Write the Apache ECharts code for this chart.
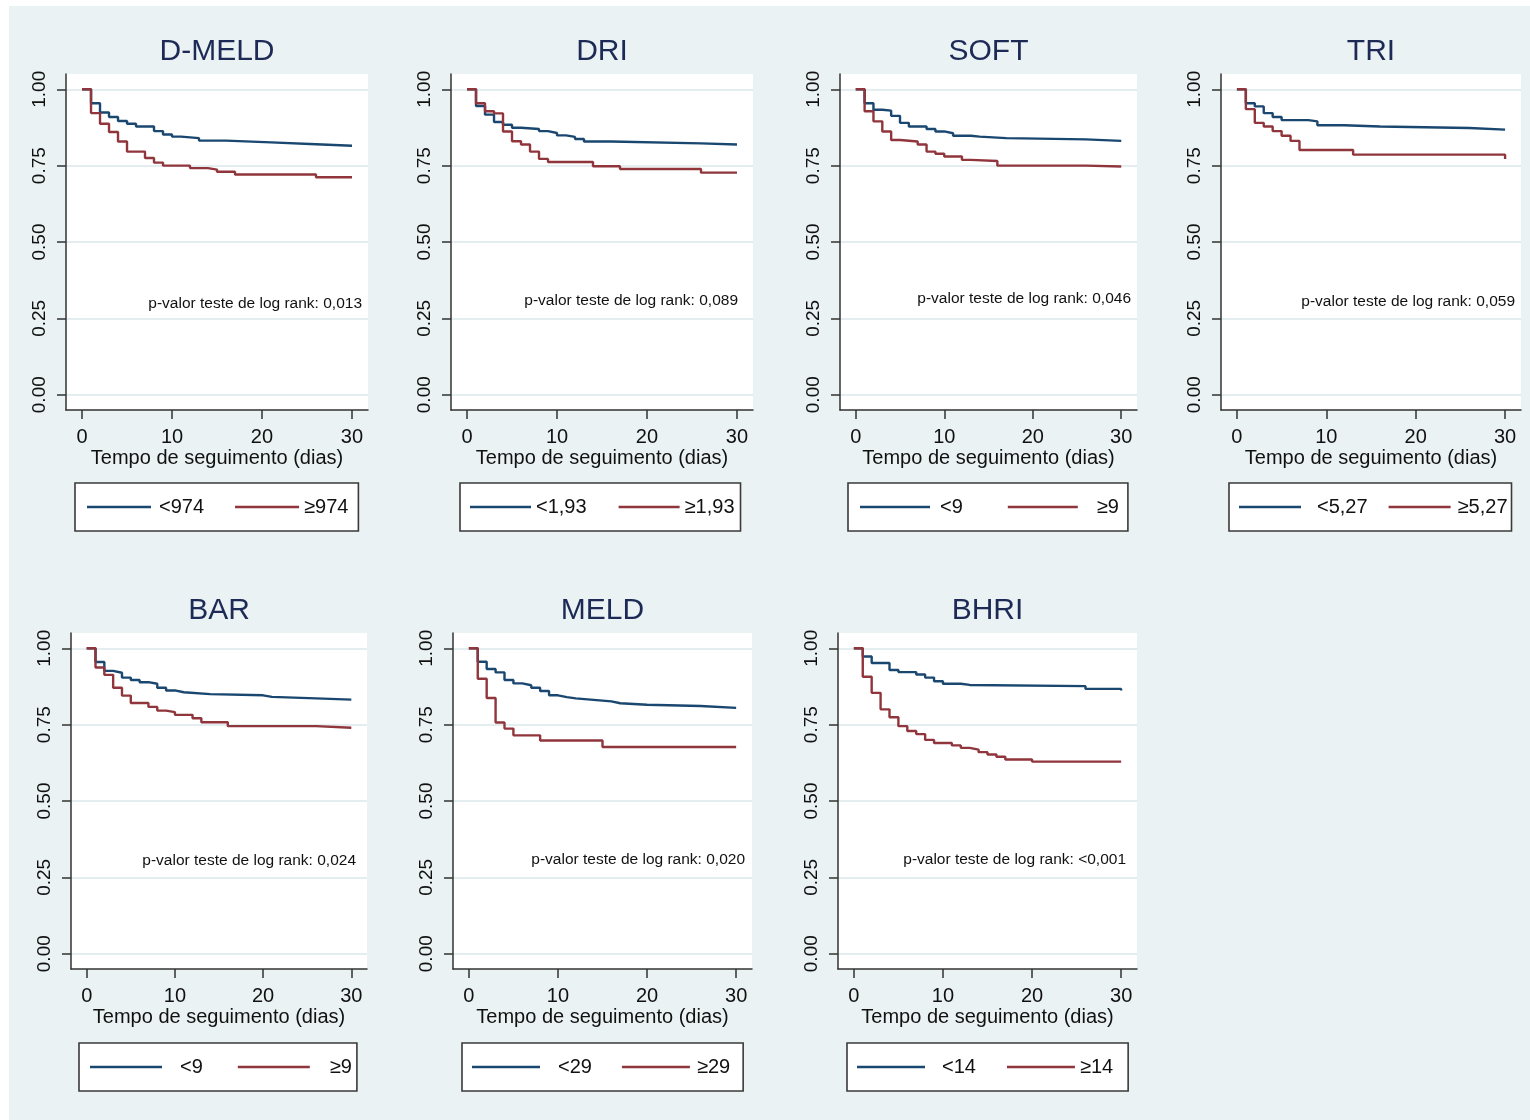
<!DOCTYPE html>
<html>
<head>
<meta charset="utf-8">
<title>Sobrevida em 30 dias por escore</title>
<script src="https://cdn.jsdelivr.net/npm/echarts@6/dist/echarts.min.js"></script>
<style>
  html, body { margin: 0; padding: 0; background: #ffffff; }
  #bg { position: absolute; left: 9px; top: 6px; width: 1521px; height: 1114px; background: #eaf2f3; }
  #chart { position: absolute; left: 0; top: 0; width: 1530px; height: 1120px; }
</style>
</head>
<body>
<div id="bg"></div>
<div id="chart"></div>
<script>
// Kaplan-Meier survival estimates: [day, survival after the drop on that day]
const dmeldLow  = [[0,1],[1,0.954],[2,0.924],[3,0.909],[4,0.896],[5,0.887],[6,0.878],[8,0.863],[9,0.852],[10,0.845],[11,0.840],[13,0.832],[16,0.826],[21,0.820],[26,0.815],[30,0.815]];
const dmeldHigh = [[0,1],[1,0.922],[2,0.887],[3,0.860],[4,0.829],[5,0.796],[7,0.775],[8,0.760],[9,0.750],[12,0.742],[14,0.737],[15,0.730],[17,0.721],[26,0.712],[30,0.712]];

const driLow  = [[0,1],[1,0.945],[2,0.917],[3,0.893],[4,0.884],[5,0.874],[6,0.870],[8,0.863],[9,0.857],[10,0.849],[11,0.844],[12,0.837],[13,0.829],[16,0.823],[26,0.819],[30,0.819]];
const driHigh = [[0,1],[1,0.954],[2,0.928],[3,0.921],[4,0.862],[5,0.830],[6,0.819],[7,0.796],[8,0.772],[9,0.762],[14,0.748],[17,0.739],[26,0.727],[30,0.727]];

const softLow  = [[0,1],[1,0.954],[2,0.933],[3,0.930],[4,0.913],[5,0.890],[6,0.878],[8,0.870],[9,0.862],[10,0.856],[11,0.848],[13,0.845],[14,0.840],[17,0.836],[26,0.831],[30,0.831]];
const softHigh = [[0,1],[1,0.928],[2,0.895],[3,0.862],[4,0.834],[5,0.829],[7,0.819],[8,0.796],[9,0.789],[10,0.780],[12,0.769],[13,0.765],[16,0.750],[26,0.747],[30,0.747]];

const triLow  = [[0,1],[1,0.954],[2,0.944],[3,0.922],[4,0.909],[5,0.899],[8,0.895],[9,0.882],[12,0.878],[16,0.873],[26,0.868],[30,0.868]];
const triHigh = [[0,1],[1,0.935],[2,0.890],[3,0.878],[4,0.863],[5,0.848],[6,0.831],[7,0.801],[13,0.786],[30,0.772]];

const barLow  = [[0,1],[1,0.955],[2,0.926],[3,0.920],[4,0.904],[5,0.896],[6,0.889],[7,0.884],[8,0.871],[9,0.862],[10,0.856],[11,0.850],[14,0.846],[20,0.841],[21,0.836],[26,0.832],[30,0.832]];
const barHigh = [[0,1],[1,0.937],[2,0.913],[3,0.871],[4,0.845],[5,0.821],[7,0.808],[8,0.796],[9,0.791],[10,0.782],[12,0.771],[13,0.758],[16,0.745],[26,0.740],[30,0.740]];

const meldLow  = [[0,1],[1,0.956],[2,0.932],[3,0.921],[4,0.896],[5,0.885],[6,0.879],[7,0.871],[8,0.860],[9,0.846],[10,0.840],[11,0.836],[12,0.831],[14,0.826],[16,0.820],[17,0.815],[20,0.811],[26,0.805],[30,0.805]];
const meldHigh = [[0,1],[1,0.900],[2,0.837],[3,0.757],[4,0.737],[5,0.715],[8,0.698],[15,0.677],[30,0.677]];

const bhriLow  = [[0,1],[1,0.973],[2,0.952],[4,0.929],[5,0.922],[7,0.914],[8,0.904],[9,0.892],[10,0.884],[12,0.880],[13,0.876],[26,0.867],[30,0.862]];
const bhriHigh = [[0,1],[1,0.907],[2,0.854],[3,0.800],[4,0.774],[5,0.745],[6,0.729],[7,0.719],[8,0.700],[9,0.690],[11,0.682],[12,0.674],[13,0.668],[14,0.660],[15,0.652],[16,0.645],[17,0.636],[20,0.629],[30,0.627]];

// Panel titles, group labels and log-rank p-values
const scoreNames  = ['D-MELD', 'DRI', 'SOFT', 'TRI', 'BAR', 'MELD', 'BHRI'];
const lowLabels   = ['<974', '<1,93', '<9', '<5,27', '<9', '<29', '<14'];
const highLabels  = ['\u2265974', '\u22651,93', '\u22659', '\u22655,27', '\u22659', '\u226529', '\u226514'];
const pValues     = ['0,013', '0,089', '0,046', '0,059', '0,024', '0,020', '<0,001'];
const lowCurves   = [dmeldLow, driLow, softLow, triLow, barLow, meldLow, bhriLow];
const highCurves  = [dmeldHigh, driHigh, softHigh, triHigh, barHigh, meldHigh, bhriHigh];

// Axis ticks
const dayTicks      = [0, 10, 20, 30];
const survivalTicks = [0, 0.25, 0.5, 0.75, 1];

// Layout of each panel (pixels)
const panelLayout = [
  { left: 66,   top: 74,  width: 302, pRight: 362,  pY: 304, leg: { left: 75,   top: 483,  pl: 12, pr: 10, iw: 64, gap: 31, t1: 3,  t2: 0 } },
  { left: 451,  top: 74,  width: 302, pRight: 738,  pY: 301, leg: { left: 460,  top: 483,  pl: 10, pr: 6,  iw: 61, gap: 32, t1: 0,  t2: 0 } },
  { left: 840,  top: 74,  width: 297, pRight: 1131, pY: 299, leg: { left: 848,  top: 483,  pl: 12, pr: 9,  iw: 70, gap: 45, t1: 5,  t2: 14 } },
  { left: 1221, top: 74,  width: 300, pRight: 1515, pY: 302, leg: { left: 1229, top: 483,  pl: 10, pr: 4,  iw: 62, gap: 21, t1: 11, t2: 2 } },
  { left: 71,   top: 633, width: 296, pRight: 356,  pY: 861, leg: { left: 79,   top: 1043, pl: 11, pr: 5,  iw: 72, gap: 35, t1: 13, t2: 15 } },
  { left: 453,  top: 633, width: 299, pRight: 745,  pY: 860, leg: { left: 462,  top: 1043, pl: 10, pr: 13, iw: 68, gap: 30, t1: 13, t2: 2 } },
  { left: 838,  top: 633, width: 299, pRight: 1126, pY: 860, leg: { left: 847,  top: 1043, pl: 10, pr: 15, iw: 68, gap: 31, t1: 12, t2: 0 } }
];
const PLOT_HEIGHT = 336;
const TITLE_OFFSET = 22;

const NAVY = '#1a476f';
const MAROON = '#90353b';
const AXIS_COLOR = '#333333';
const GRID_COLOR = '#e4edf0';
const FONT = '"Liberation Sans", Arial, Helvetica, sans-serif';

const grids = [], xAxes = [], yAxes = [], series = [], legends = [], graphics = [];

scoreNames.forEach((score, i) => {
  const L = panelLayout[i];
  grids.push({
    left: L.left, top: L.top, width: L.width, height: PLOT_HEIGHT,
    show: true, backgroundColor: '#ffffff', borderWidth: 0, containLabel: false
  });
  xAxes.push({
    gridIndex: i, type: 'value', min: -1.78, max: 31.78,
    axisLine: { show: true, onZero: false, lineStyle: { color: AXIS_COLOR, width: 1.5 } },
    axisTick: { show: true, length: 9, customValues: dayTicks, lineStyle: { color: AXIS_COLOR, width: 1.5 } },
    axisLabel: { customValues: dayTicks, margin: 17, fontSize: 20, color: '#111', fontFamily: FONT },
    splitLine: { show: false },
    name: 'Tempo de seguimento (dias)', nameLocation: 'middle', nameGap: 38,
    nameTextStyle: { fontSize: 20, color: '#111', fontFamily: FONT }
  });
  yAxes.push({
    gridIndex: i, type: 'value', min: -0.05, max: 1.05,
    axisLine: { show: true, onZero: false, lineStyle: { color: AXIS_COLOR, width: 1.5 } },
    axisTick: { show: true, length: 9, customValues: survivalTicks, lineStyle: { color: AXIS_COLOR, width: 1.5 } },
    axisLabel: { customValues: survivalTicks, rotate: 90, margin: 17, fontSize: 19, color: '#111', fontFamily: FONT,
                 formatter: v => v.toFixed(2) },
    splitLine: { show: true, lineStyle: { color: GRID_COLOR, width: 2 } }
  });

  const lowName = score + '|' + lowLabels[i];
  const highName = score + '|' + highLabels[i];
  [[lowName, lowCurves[i], NAVY], [highName, highCurves[i], MAROON]].forEach(([name, data, color]) => {
    series.push({
      name, type: 'line', step: 'end', xAxisIndex: i, yAxisIndex: i,
      data, symbol: 'none', silent: true, z: 3,
      color, lineStyle: { color, width: 2.4 }
    });
  });

  const G = L.leg;
  legends.push({
    left: G.left, top: G.top, orient: 'horizontal',
    padding: [13, G.pr, 13, G.pl], itemGap: G.gap, itemWidth: G.iw, itemHeight: 2.6,
    icon: 'rect',
    backgroundColor: '#ffffff', borderColor: '#3a3a3a', borderWidth: 1.6, borderRadius: 0,
    selectedMode: false,
    textStyle: { fontSize: 20, color: '#111', fontFamily: FONT, lineHeight: 22 },
    formatter: n => n.split('|')[1],
    data: [
      { name: lowName, textStyle: { padding: [0, 0, 0, G.t1] } },
      { name: highName, textStyle: { padding: [0, 0, 0, G.t2] } }
    ]
  });

  graphics.push({
    type: 'text', x: L.left + L.width / 2, y: L.top - TITLE_OFFSET, silent: true,
    style: { text: score, font: '30px ' + FONT, fill: '#1e2a56', align: 'center', verticalAlign: 'middle' }
  });
  graphics.push({
    type: 'text', x: L.pRight, y: L.pY, silent: true,
    style: { text: 'p-valor teste de log rank: ' + pValues[i], font: '15.5px ' + FONT, fill: '#111',
             align: 'right', verticalAlign: 'middle' }
  });
});

const chart = echarts.init(document.getElementById('chart'), null, { renderer: 'canvas', width: 1530, height: 1120 });
chart.setOption({
  animation: false,
  backgroundColor: 'transparent',
  grid: grids, xAxis: xAxes, yAxis: yAxes,
  legend: legends,
  series,
  graphic: graphics
});
</script>
</body>
</html>
